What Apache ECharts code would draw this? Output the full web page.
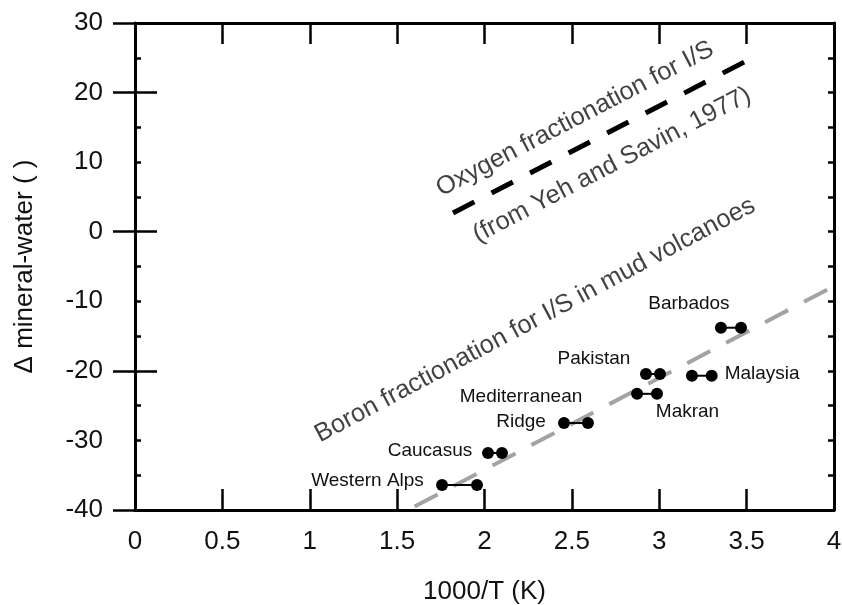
<!DOCTYPE html>
<html><head><meta charset="utf-8">
<script src="https://cdn.jsdelivr.net/npm/echarts@6/dist/echarts.min.js"></script>
<style>html,body{margin:0;padding:0;background:#fff}#c{width:842px;height:605px}</style>
</head><body><div id="c"></div>
<script>
// ---- data ----
const sites = ['Western Alps', 'Caucasus', 'Mediterranean\nRidge', 'Pakistan', 'Makran', 'Malaysia', 'Barbados'];
const xLow  = [1.757, 2.02, 2.455, 2.924, 2.873, 3.187, 3.353];
const xHigh = [1.957, 2.10, 2.592, 3.004, 2.987, 3.300, 3.468];
const deltaVal = [-36.4, -31.8, -27.5, -20.45, -23.3, -20.7, -13.8];
const oxygenX = [1.82, 3.51];
const oxygenY = [2.7, 24.7];
const boronX = [1.6, 3.97];
const boronY = [-39.5, -8.2];
const annotationTexts = ['Oxygen fractionation for I/S', '(from Yeh and Savin, 1977)', 'Boron fractionation for I/S in mud volcanoes'];
const annotationX = [2.518, 2.73, 2.289];
const annotationY = [16.2, 9.59, -12.7];

// ---- layout / style (not data) ----
const FONT = '"Liberation Sans", Arial, Helvetica, sans-serif';
const TXT = '#111';
const labelLayout = [
  {end: 0, offset: [-74.5, -4]},
  {end: 0, offset: [-58, -2]},
  {end: 0, offset: [-43, -13.5]},
  {end: 0, offset: [-52, -15]},
  {end: 1, offset: [30.5, 18]},
  {end: 1, offset: [50.5, -2]},
  {end: 0, offset: [-32, -24]}
];

const chart = echarts.init(document.getElementById('c'), null, {renderer: 'canvas'});

const xBase = {
  type: 'value', min: 0, max: 4, interval: 0.5,
  axisLine: {show: true, onZero: false, lineStyle: {color: '#000', width: 3}},
  axisTick: {show: true, inside: true, length: 21, lineStyle: {color: '#000', width: 2.5}},
  splitLine: {show: false}
};
const yMinor = {
  type: 'value', min: -40, max: 30, interval: 5,
  axisLine: {show: true, onZero: false, lineStyle: {color: '#000', width: 3}},
  axisTick: {show: true, inside: true, length: 6, lineStyle: {color: '#000', width: 2.5}},
  splitLine: {show: false}
};
const yMajor = {
  type: 'value', min: -40, max: 30, interval: 20,
  axisLine: {show: false},
  axisTick: {show: true, inside: true, length: 22, lineStyle: {color: '#000', width: 2.5}},
  axisLabel: {show: false},
  splitLine: {show: false}
};

const series = [];
sites.forEach((name, i) => {
  const lay = labelLayout[i];
  const pts = [[xLow[i], deltaVal[i]], [xHigh[i], deltaVal[i]]].map((v, k) => ({
    value: v,
    label: k === lay.end ? {
      show: true, position: 'inside', offset: lay.offset, formatter: name,
      fontSize: 19, fontFamily: FONT, color: TXT, lineHeight: 25, align: 'center'
    } : {show: false}
  }));
  series.push({
    type: 'line', name: name, data: pts, symbol: 'circle', symbolSize: 12,
    itemStyle: {color: '#000'}, lineStyle: {color: '#000', width: 2},
    z: 5, silent: true
  });
});
series.push({
  type: 'line', name: 'oxygen', data: oxygenX.map((x, i) => [x, oxygenY[i]]),
  symbol: 'none', lineStyle: {color: '#000', width: 5, type: [24, 19.4], cap: 'butt'}, z: 3, silent: true
});
series.push({
  type: 'line', name: 'boron', data: boronX.map((x, i) => [x, boronY[i]]),
  symbol: 'none', lineStyle: {color: '#a3a3a3', width: 4, type: [26, 18], cap: 'butt'}, z: 3, silent: true
});
series.push({
  type: 'scatter', name: 'annotations', symbolSize: 1, itemStyle: {color: 'transparent'}, silent: true,
  data: annotationTexts.map((t, i) => ({
    value: [annotationX[i], annotationY[i]],
    label: {show: true, position: 'inside', formatter: t, rotate: i === 2 ? 28 : 27.5,
      fontSize: 25.5, fontFamily: FONT, color: TXT, align: 'center', verticalAlign: 'middle'}
  }))
});

chart.setOption({
  animation: false,
  backgroundColor: '#fff',
  grid: {left: 135, right: 8, top: 23, bottom: 95, containLabel: false, outerBoundsMode: 'none'},
  xAxis: [
    Object.assign({}, xBase, {
      position: 'bottom', name: '1000/T (K)', nameLocation: 'middle', nameGap: 69,
      nameTextStyle: {fontSize: 26, fontFamily: FONT, color: TXT},
      axisLabel: {show: true, margin: 19, fontSize: 26, fontFamily: FONT, color: TXT}
    }),
    Object.assign({}, xBase, {position: 'top', axisLabel: {show: false}})
  ],
  yAxis: [
    Object.assign({}, yMinor, {
      position: 'left', name: 'Δ mineral-water ( )', nameLocation: 'middle', nameGap: 97,
      nameTextStyle: {fontSize: 26, fontFamily: FONT, color: TXT},
      axisLabel: {show: true, margin: 32, fontSize: 26, fontFamily: FONT, color: TXT,
        formatter: v => (Math.round(v) % 10 === 0 ? String(v) : '')}
    }),
    Object.assign({}, yMajor, {position: 'left'}),
    Object.assign({}, yMinor, {position: 'right', axisLabel: {show: false}}),
    Object.assign({}, yMajor, {position: 'right'})
  ],
  series: series
});
</script>
</body></html>
